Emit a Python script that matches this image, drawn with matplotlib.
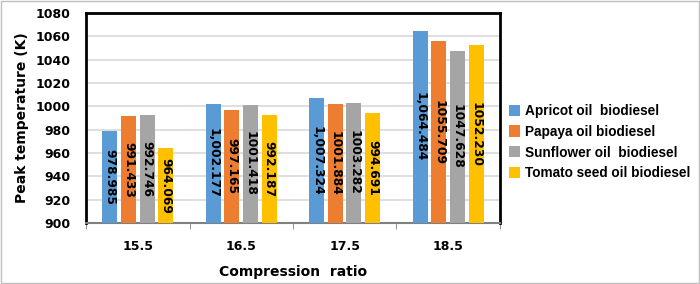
import matplotlib
matplotlib.use("Agg")
import matplotlib.pyplot as plt
import numpy as np

categories = ["15.5", "16.5", "17.5", "18.5"]
series_names = ["Apricot oil  biodiesel", "Papaya oil biodiesel", "Sunflower oil  biodiesel", "Tomato seed oil biodiesel"]
apricot = [978.985, 1002.177, 1007.324, 1064.484]
papaya = [991.433, 997.165, 1001.884, 1055.709]
sunflower = [992.746, 1001.418, 1003.282, 1047.628]
tomato = [964.069, 992.187, 994.691, 1052.230]
labels_apricot = ["978.985", "1,002.177", "1,007.324", "1,064.484"]
labels_papaya = ["991.433", "997.165", "1001.884", "1055.709"]
labels_sunflower = ["992.746", "1001.418", "1003.282", "1047.628"]
labels_tomato = ["964.069", "992.187", "994.691", "1052.230"]
colors = ["#5B9BD5", "#ED7D31", "#A5A5A5", "#FFC000"]

plt.rcParams['font.family'] = ['DejaVu Sans']
fig = plt.figure(figsize=(7, 2.84), dpi=100)
ax = fig.add_axes([0.123, 0.215, 0.591, 0.739])

x = np.arange(len(categories))
width = 0.145
step = 0.18
all_vals = [apricot, papaya, sunflower, tomato]
all_labels = [labels_apricot, labels_papaya, labels_sunflower, labels_tomato]
base = 900
for i, (vals, labs, c, name) in enumerate(zip(all_vals, all_labels, colors, series_names)):
    pos = x + (i - 1.5) * step
    ax.bar(pos, np.array(vals) - base, width, bottom=base, color=c, label=name, zorder=3)
    for p, v, l in zip(pos, vals, labs):
        ax.text(p, (v + base) / 2, l, rotation=-90, ha='center', va='center',
                fontsize=8.8, fontweight='bold', color='black', zorder=4)

ax.set_ylim(900, 1080)
ax.set_yticks(np.arange(900, 1081, 20))
ax.set_xlim(-0.5, 3.5)
ax.set_xticks(x)
ax.set_xticklabels(categories, fontsize=9, fontweight='bold')
ax.set_xticks(np.arange(-0.5, 4.0, 1.0), minor=True)
ax.tick_params(axis='x', which='major', length=0, pad=12)
ax.tick_params(axis='x', which='minor', length=4, color='#808080', direction='out')
ax.tick_params(axis='y', length=0, labelsize=9, pad=11)
for t in ax.get_yticklabels():
    t.set_fontweight('bold')
ax.grid(axis='y', color='#D9D9D9', linewidth=1.2, zorder=0)
for s in ['top', 'left', 'right']:
    ax.spines[s].set_color('black')
    ax.spines[s].set_linewidth(2)
ax.spines['bottom'].set_color('#808080')
ax.spines['bottom'].set_linewidth(1.5)

ax.set_ylabel("Peak temperature (K)", fontsize=10, fontweight='bold', labelpad=5)
ax.set_xlabel("Compression  ratio", fontsize=10, fontweight='bold', labelpad=9)

leg = ax.legend(loc='center left', bbox_to_anchor=(1.0, 0.385), frameon=False,
                prop={'family': 'Liberation Sans', 'size': 9.8, 'weight': 'bold'},
                handlelength=0.75, handleheight=0.9, handletextpad=0.4,
                labelspacing=0.5, borderaxespad=0.3)

fig.patches.append(plt.Rectangle((0.001, 0.002), 0.997, 0.995, transform=fig.transFigure,
                                 fill=False, edgecolor='#BFBFBF', linewidth=1))
fig.savefig("out.png", dpi=100)
